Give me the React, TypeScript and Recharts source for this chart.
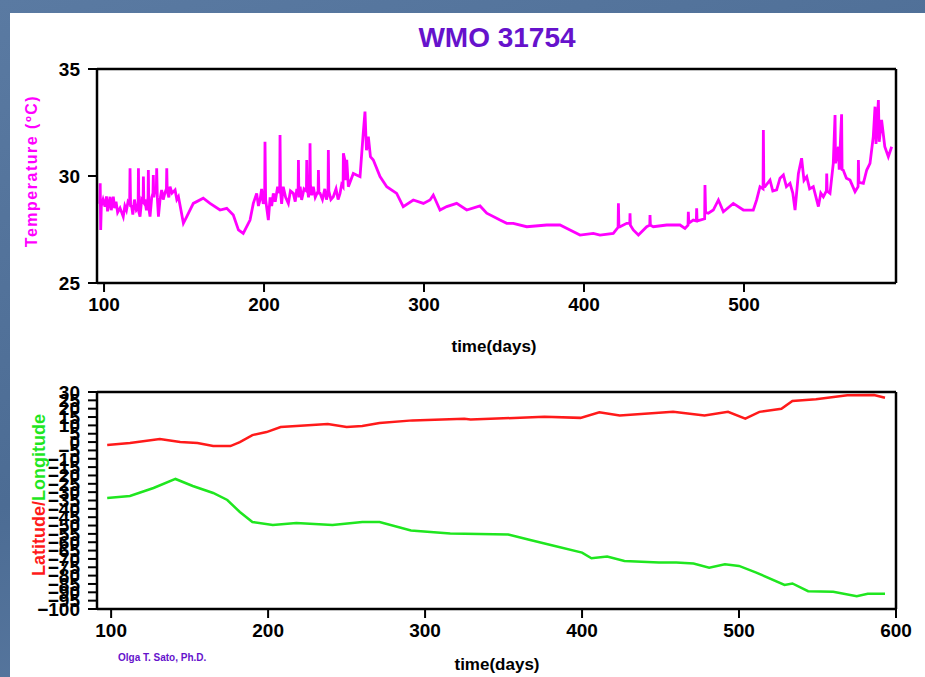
import { LineChart, Line, XAxis, YAxis } from 'recharts';

// ticks
const tempTicks = [25, 30, 35];
const dayTicksUpper = [100, 200, 300, 400, 500];
const dayTicksLower = [100, 200, 300, 400, 500, 600];
const posTicks = [
  30, 25, 20, 15, 10, 5, 0, -5, -10, -15, -20, -25, -30, -35, -40, -45, -50, -55, -60, -65, -70, -75,
  -80, -85, -90, -95, -100,
];

// [day, temperature °C]
const temperature: [number, number][] = [
  [97.4, 28.7], [97.6, 29.66], [97.9, 27.48], [98.3, 28.6], [99.4, 28.9], [100.6, 28.57], [101.5, 29.05],
  [102.2, 28.35], [103.75, 29.03], [104.5, 28.4], [105.8, 29.03], [106.6, 28.5], [107.5, 28.8], [108.5, 28.3],
  [110, 28.5], [111, 28.3], [112, 28.1], [113, 28.6], [114, 28.4], [115, 28.8], [116.0, 28.7], [116.25, 30.36],
  [116.6, 28.6], [117.3, 28.57], [118, 28.2], [119, 28.9], [120.2, 28.4], [121.3, 28.5], [121.5, 30.36],
  [121.8, 28.3], [122.5, 28.1], [123.5, 28.9], [124.4, 28.8], [124.6, 29.97], [124.9, 28.7], [125.5, 28.9],
  [126.5, 28.4], [127.5, 29.0], [127.7, 30.28], [128.0, 28.5], [128.75, 28.1], [129.8, 29.0], [130.6, 29.2],
  [130.8, 30.05], [131.1, 29.0], [131.5, 29.2], [132.7, 29.4], [132.9, 30.36], [133.3, 29.0], [134, 28.1],
  [135, 28.9], [136, 29.35], [137, 28.9], [138, 29.2], [139.0, 29.4], [139.2, 30.36], [139.5, 29.3],
  [140.5, 29.0], [141.25, 29.5], [142.5, 29.2], [144.4, 29.35], [145.5, 28.9], [146.5, 29.03], [149.6, 27.79],
  [151.7, 28.1], [155.8, 28.72], [162, 28.96], [166.25, 28.72], [172.5, 28.41], [176.7, 28.49], [180.8, 28.18],
  [184, 27.48], [187, 27.32], [191.25, 27.94], [193.3, 28.72], [195.4, 29.19], [196.5, 28.6], [197.5, 28.88],
  [198.5, 29.4], [199.5, 28.7], [200.4, 29.0], [200.6, 31.6], [201.0, 28.9], [202.7, 27.94], [203.8, 29.0],
  [204.8, 28.6], [205.8, 29.19], [207, 28.8], [208.5, 29.5], [209.8, 29.2], [210, 31.92], [210.3, 29.3],
  [211, 28.7], [212, 29.5], [213.5, 29.0], [215.2, 28.72], [216.5, 29.3], [218.3, 29.19], [219.5, 28.8],
  [220.5, 29.4], [221.3, 29.2], [221.5, 30.75], [221.8, 29.0], [222.6, 29.5], [223.5, 28.88], [225, 29.4],
  [226.5, 29.3], [226.7, 30.75], [227.0, 29.5], [227.8, 29.0], [228.6, 29.6], [228.75, 31.53], [229.0, 29.6],
  [229.8, 29.1], [230.8, 29.5], [232, 29.0], [233.8, 29.3], [234, 30.28], [234.3, 29.2], [235, 29.19],
  [236.5, 28.9], [238, 29.4], [239, 28.9], [240.0, 29.2], [240.2, 31.21], [240.5, 29.3], [241.8, 28.9],
  [243.3, 29.03], [245, 29.4], [246.3, 28.9], [247.5, 29.19], [248.5, 29.6], [249.4, 29.5], [249.6, 31.06],
  [250.5, 30.75], [251, 29.8], [251.7, 30.75], [252.7, 29.5], [255.8, 30.12], [260, 29.97], [262, 31.99],
  [263.1, 33.01], [264, 31.2], [265.2, 31.84], [266.5, 30.9], [268.3, 30.75], [272.5, 29.97], [276.7, 29.5],
  [282.9, 29.19], [287, 28.57], [293.3, 28.88], [299.6, 28.72], [303.75, 28.88], [305.8, 29.11], [310, 28.41],
  [314.2, 28.57], [320.4, 28.72], [326.7, 28.41], [335, 28.6], [339.2, 28.26], [347.5, 27.94], [351.7, 27.79],
  [355.8, 27.79], [364.2, 27.63], [376.7, 27.71], [385, 27.71], [391.25, 27.48], [397.5, 27.24], [405.8, 27.32],
  [410, 27.24], [418.3, 27.32], [421.3, 27.6], [421.5, 28.72], [421.8, 27.7], [422.5, 27.63], [426.7, 27.79],
  [428.6, 27.8], [428.75, 28.26], [429, 27.7], [430.8, 27.48], [434, 27.24], [439.2, 27.63], [441.1, 27.7],
  [441.25, 28.18], [441.5, 27.7], [443.3, 27.63], [451.7, 27.71], [460, 27.71], [463.1, 27.55], [465.0, 27.7],
  [465.2, 28.33], [465.5, 27.8], [468.3, 27.94], [470.2, 27.9], [470.4, 28.49], [470.7, 27.9], [472.5, 27.94],
  [475.4, 28.0], [475.6, 29.58], [476, 28.3], [477.7, 28.26], [480.8, 28.41], [484, 28.88], [487.1, 28.33],
  [493.3, 28.72], [499.6, 28.41], [505.8, 28.41], [507.9, 28.88], [510, 29.5], [511.9, 29.4], [512.1, 32.15],
  [512.4, 29.5], [513.1, 29.5], [516.25, 29.81], [518, 29.3], [520.4, 29.35], [522.5, 29.9], [524.6, 30.05],
  [526.5, 29.5], [528.75, 29.66], [530.5, 29.2], [531.9, 28.41], [534, 30.12], [536, 30.83], [537.5, 29.8],
  [539.2, 29.97], [541, 29.4], [543.3, 29.5], [546.5, 28.57], [548, 29.2], [549.6, 29.03], [551.5, 29.3],
  [551.7, 30.12], [552, 29.3], [553.75, 29.19], [555.8, 30.59], [556.9, 32.85], [557.2, 30.6], [559, 31.37],
  [559.5, 30.3], [561, 32.88], [561.3, 30.3], [562, 30.28], [564, 29.9], [566.25, 29.81], [569.4, 29.27],
  [571.3, 29.5], [571.5, 30.75], [571.8, 29.7], [574.6, 29.66], [576.7, 30.28], [578.75, 30.59], [580.8, 31.84],
  [581.9, 33.24], [582.5, 31.5], [584, 33.55], [584.5, 31.6], [586, 32.62], [588, 31.37], [590.2, 30.9],
  [592.3, 31.37],
];

// [day, degrees]
const latitude: [number, number][] = [
  [97.5, -1.8], [112, -0.6], [131, 1.8], [144, 0.0], [155, -0.6], [165, -2.4], [176, -2.4], [182, 0.0],
  [190, 4.2], [199, 6.0], [208, 9.0], [218, 9.6], [238, 10.8], [250, 9.0], [260, 9.6], [271, 11.4],
  [292, 13.0], [325, 13.9], [329, 13.5], [376, 15.1], [399, 14.5], [411, 17.9], [424, 15.9], [458, 18.1],
  [478, 15.9], [493, 18.1], [504, 14.1], [513, 18.1], [527, 19.9], [534, 24.6], [549, 25.6], [569, 28.0],
  [586, 28.2], [593, 26.6],
];

const longitude: [number, number][] = [
  [97.5, -33.5], [112, -32.3], [127, -27.5], [141, -22.1], [152, -26.3], [165, -30.5], [174, -34.7],
  [182, -41.9], [190, -47.9], [203, -49.7], [218, -48.5], [241, -49.7], [260, -47.9], [271, -47.9],
  [291, -53.0], [316, -54.7], [353, -55.4], [367, -58.7], [382, -62.1], [400, -66.2], [406, -69.6],
  [416, -68.6], [427, -71.2], [449, -72.2], [460, -72.2], [471, -72.8], [481, -75.2], [491, -73.2],
  [500, -74.2], [511, -78.2], [529, -85.6], [534, -84.7], [544, -89.3], [560, -89.7], [575, -92.3],
  [582, -90.9], [593, -90.9],
];

const rows = (pts: [number, number][]) => pts.map(([day, v]) => ({ day, v }));

const FONT = '"Liberation Sans", Arial, Helvetica, sans-serif';
const tickStyle = { fill: '#000', fontSize: 19, fontWeight: 'bold', fontFamily: FONT };
const axisLine = { stroke: '#000', strokeWidth: 2.5 };
const tickLine = { stroke: '#000', strokeWidth: 2 };
const minus = (v: number) => String(v).replace('-', '\u2212');

const App = () => {
  return (
    <div
      style={{
        position: 'absolute',
        left: 0,
        top: 0,
        width: 925,
        height: 677,
        overflow: 'hidden',
        background: 'linear-gradient(160deg, #5a7aa2 0%, #4c6c94 50%, #6584ab 100%)',
        fontFamily: FONT,
      }}
    >
      <div style={{ position: 'absolute', left: 10, top: 13, width: 915, height: 664, background: '#fff' }} />

      <div
        style={{
          position: 'absolute',
          left: 297,
          top: 22,
          width: 400,
          textAlign: 'center',
          fontSize: 28,
          fontWeight: 'bold',
          color: '#6612cc',
          lineHeight: '32px',
        }}
      >
        WMO 31754
      </div>

      <div style={{ position: 'absolute', left: 0, top: 0 }}>
        <LineChart width={925} height={360} data={rows(temperature)} margin={{ top: 59, right: 9, bottom: 37, left: 37 }}>
          <XAxis
            dataKey="day"
            type="number"
            domain={[95.6, 595]}
            allowDataOverflow
            ticks={dayTicksUpper}
            interval={0}
            tickSize={9}
            tickMargin={6}
            height={40}
            axisLine={axisLine}
            tickLine={tickLine}
            tick={tickStyle}
          />
          <XAxis
            xAxisId="top"
            orientation="top"
            dataKey="day"
            type="number"
            domain={[95.6, 595]}
            allowDataOverflow
            ticks={dayTicksUpper}
            interval={0}
            tickSize={9}
            height={10}
            axisLine={axisLine}
            tickLine={tickLine}
            tick={false}
          />
          <YAxis
            type="number"
            domain={[25, 35]}
            allowDataOverflow
            ticks={tempTicks}
            interval={0}
            tickSize={9}
            tickMargin={8}
            width={60}
            axisLine={axisLine}
            tickLine={tickLine}
            tick={tickStyle}
          />
          <YAxis
            yAxisId="right"
            orientation="right"
            type="number"
            domain={[25, 35]}
            ticks={tempTicks}
            interval={0}
            tickSize={9}
            width={20}
            axisLine={axisLine}
            tickLine={tickLine}
            tick={false}
          />
          <Line
            dataKey="v"
            stroke="#ff00ff"
            strokeWidth={2.8}
            dot={false}
            isAnimationActive={false}
            strokeLinejoin="miter"
          />
        </LineChart>
      </div>

      <div style={{ position: 'absolute', left: 0, top: 330 }}>
        <LineChart width={925} height={347} margin={{ top: 52, right: 9, bottom: 28, left: 37 }}>
          <XAxis
            dataKey="day"
            type="number"
            domain={[91, 600]}
            allowDataOverflow
            ticks={dayTicksLower}
            interval={0}
            tickSize={9}
            tickMargin={6}
            height={40}
            axisLine={axisLine}
            tickLine={tickLine}
            tick={tickStyle}
          />
          <XAxis
            xAxisId="top"
            orientation="top"
            dataKey="day"
            type="number"
            domain={[91, 600]}
            allowDataOverflow
            ticks={dayTicksLower}
            interval={0}
            tickSize={9}
            height={10}
            axisLine={axisLine}
            tickLine={tickLine}
            tick={false}
          />
          <YAxis
            type="number"
            domain={[-100, 30]}
            allowDataOverflow
            ticks={posTicks}
            interval={0}
            tickSize={9}
            tickMargin={8}
            width={60}
            axisLine={axisLine}
            tickLine={tickLine}
            tick={tickStyle}
            tickFormatter={minus}
          />
          <YAxis
            yAxisId="right"
            orientation="right"
            type="number"
            domain={[-100, 30]}
            ticks={posTicks}
            interval={0}
            tickSize={9}
            width={20}
            axisLine={axisLine}
            tickLine={tickLine}
            tick={false}
          />
          <Line data={rows(latitude)} dataKey="v" stroke="#ff1a1a" strokeWidth={2.5} dot={false} isAnimationActive={false} />
          <Line data={rows(longitude)} dataKey="v" stroke="#1fe61f" strokeWidth={2.5} dot={false} isAnimationActive={false} />
        </LineChart>
      </div>

      {/* axis titles */}
      <div
        style={{
          position: 'absolute',
          left: 32 - 110,
          top: 171 - 10,
          width: 220,
          height: 20,
          lineHeight: '20px',
          textAlign: 'center',
          transform: 'rotate(-90deg)',
          fontSize: 16,
          fontWeight: 'bold',
          letterSpacing: 1.5,
          color: '#ff00ff',
        }}
      >
        Temperature (ºC)
      </div>
      <div
        style={{
          position: 'absolute',
          left: 39 - 110,
          top: 495 - 11,
          width: 220,
          height: 22,
          lineHeight: '22px',
          textAlign: 'center',
          transform: 'rotate(-90deg)',
          fontSize: 18,
          fontWeight: 'bold',
        }}
      >
        <span style={{ color: '#ff1a1a' }}>Latitude/</span>
        <span style={{ color: '#1fe61f' }}>Longitude</span>
      </div>
      <div style={{ position: 'absolute', left: 394, top: 337, width: 200, textAlign: 'center', fontSize: 17, fontWeight: 'bold', lineHeight: '20px' }}>
        time(days)
      </div>
      <div style={{ position: 'absolute', left: 397, top: 655, width: 200, textAlign: 'center', fontSize: 17, fontWeight: 'bold', lineHeight: '20px' }}>
        time(days)
      </div>
      <div style={{ position: 'absolute', left: 118, top: 651, fontSize: 10, fontWeight: 'bold', color: '#6612cc', lineHeight: '14px' }}>
        Olga T. Sato, Ph.D.
      </div>
    </div>
  );
};

export default App;
